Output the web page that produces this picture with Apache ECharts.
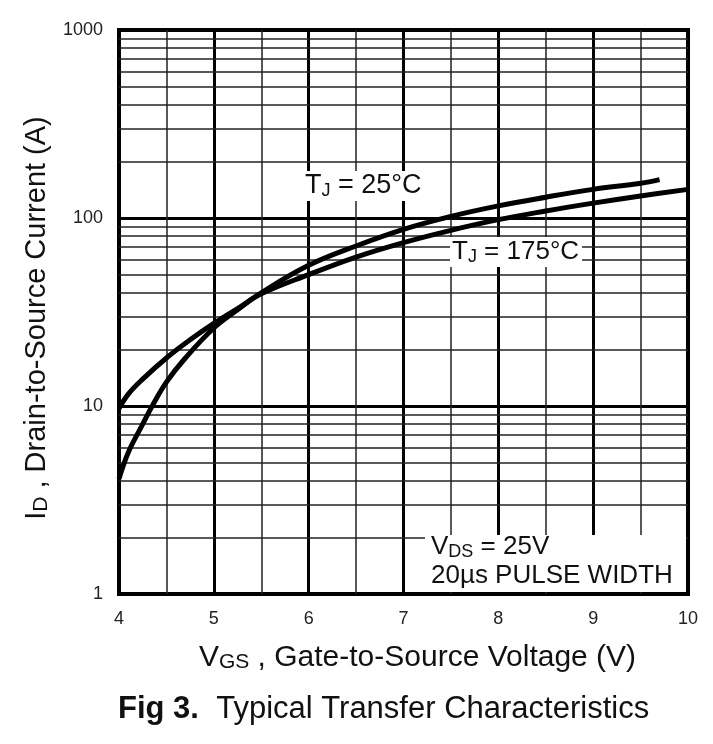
<!DOCTYPE html>
<html>
<head>
<meta charset="utf-8">
<script src="https://cdn.jsdelivr.net/npm/echarts@6/dist/echarts.min.js"></script>
<style>
html,body{margin:0;padding:0;background:#fff;}
#main{width:713px;height:744px;}
</style>
</head>
<body>
<div id="main"></div>
<script>
// Data
const vgs25 = [4.0, 4.1, 4.25, 4.35, 4.5, 4.7, 5.0, 5.25, 5.5, 6.0, 6.5, 7.0, 7.5, 8.0, 8.5, 9.0, 9.5, 9.7];
const id25  = [4.1, 5.7, 8.0, 10, 13.4, 18, 26, 32.5, 40, 56, 71, 87, 102, 116, 129, 142, 153, 160];
const vgs175 = [4.0, 4.1, 4.25, 4.5, 4.75, 5.0, 5.25, 5.5, 6.0, 6.5, 7.0, 7.5, 8.0, 8.5, 9.0, 9.5, 10.0];
const id175  = [9.7, 11.6, 13.9, 18, 22.5, 27.5, 33, 39.5, 50, 62, 74, 86, 98, 109, 120, 131, 142];
const yMinorLines = [2,3,4,5,6,7,8,9,20,30,40,50,60,70,80,90,200,300,400,500,600,700,800,900];
const xTickLabels = ['4','5','6','7','8','9','10'];
const yTickLabels = ['1','10','100','1000'];

const pair = (xs, ys) => xs.map((x, i) => [x, ys[i]]);
const FONT = '"Liberation Sans", Arial, sans-serif';

const chart = echarts.init(document.getElementById('main'));
chart.setOption({
  backgroundColor: '#fff',
  animation: false,
  grid: { left: 119, right: 25, top: 30, bottom: 150, show: true, borderColor: '#000', borderWidth: 4, backgroundColor: 'transparent' },
  xAxis: {
    type: 'value', min: 4, max: 10, interval: 1,
    axisLine: { show: false }, axisTick: { show: false },
    axisLabel: { color: '#222', fontSize: 18, fontFamily: FONT, margin: 16,
      formatter: v => xTickLabels[Math.round(v) - 4] },
    splitLine: { show: true, lineStyle: { color: '#000', width: 3 } },
    minorTick: { show: false, splitNumber: 2 },
    minorSplitLine: { show: true, lineStyle: { color: '#222', width: 1.5 } },
    name: '{m|V}{s|GS}{m| , Gate-to-Source Voltage (V)}',
    nameLocation: 'middle', nameGap: 48,
    nameTextStyle: { padding: [0, 0, 0, 28], rich: {
      m: { fontSize: 30, fontFamily: FONT, color: '#111' },
      s: { fontSize: 21, fontFamily: FONT, color: '#111', verticalAlign: 'bottom', padding: [10,0,0,0] }
    } }
  },
  yAxis: {
    type: 'log', logBase: 10, min: 1, max: 1000,
    axisLine: { show: false }, axisTick: { show: false },
    axisLabel: { color: '#222', fontSize: 18, fontFamily: FONT, margin: 16,
      formatter: v => yTickLabels[Math.round(Math.log10(v))] },
    splitLine: { show: true, lineStyle: { color: '#000', width: 3 } },
    name: '{m|I}{s|D}{m| , Drain-to-Source Current (A)}',
    nameLocation: 'middle', nameGap: 61, nameRotate: 90,
    nameTextStyle: { padding: [0, 12, 0, 0], rich: {
      m: { fontSize: 29, fontFamily: FONT, color: '#111' },
      s: { fontSize: 21, fontFamily: FONT, color: '#111', verticalAlign: 'bottom', padding: [10,0,0,0] }
    } }
  },
  series: [
    {
      type: 'line', data: [], silent: true, z: 1,
      markLine: {
        silent: true, symbol: 'none', animation: false,
        label: { show: false },
        lineStyle: { color: '#222', width: 1.6, type: 'solid' },
        data: yMinorLines.map(v => ({ yAxis: v }))
      }
    },
    {
      name: 'TJ = 25°C', type: 'line', smooth: 0.4, showSymbol: false, z: 5,
      lineStyle: { color: '#000', width: 5 },
      data: pair(vgs25, id25)
    },
    {
      name: 'TJ = 175°C', type: 'line', smooth: 0.4, showSymbol: false, z: 5,
      lineStyle: { color: '#000', width: 5 },
      data: pair(vgs175, id175)
    }
  ],
  graphic: [
    { type: 'text', left: 303, top: 171, z: 10,
      style: { text: '{m|T}{s|J}{m| = 25°C}', backgroundColor: '#fff', padding: [1,3,1,2],
        rich: { m: { fontSize: 27, fontFamily: FONT, fill: '#111' },
                s: { fontSize: 18, fontFamily: FONT, fill: '#111', verticalAlign: 'bottom', padding: [10,0,0,0] } } } },
    { type: 'text', left: 450, top: 237, z: 10,
      style: { text: '{m|T}{s|J}{m| = 175°C}', backgroundColor: '#fff', padding: [1,3,1,2],
        rich: { m: { fontSize: 26, fontFamily: FONT, fill: '#111' },
                s: { fontSize: 18, fontFamily: FONT, fill: '#111', verticalAlign: 'bottom', padding: [10,0,0,0] } } } },
    { type: 'rect', left: 425, top: 535, z: 9, shape: { width: 261, height: 57 }, style: { fill: '#fff' } },
    { type: 'text', left: 431, top: 533, z: 10,
      style: { text: '{m|V}{s|DS}{m| = 25V}\n{m|20µs PULSE WIDTH}',
        rich: { m: { fontSize: 26, fontFamily: FONT, fill: '#111', lineHeight: 29 },
                s: { fontSize: 18, fontFamily: FONT, fill: '#111', verticalAlign: 'bottom', padding: [10,0,0,0], lineHeight: 29 } } } },
    { type: 'text', left: 118, top: 694, z: 10,
      style: { text: '{b|Fig 3.}{n|  Typical Transfer Characteristics}',
        rich: { b: { fontSize: 31, fontWeight: 'bold', fontFamily: FONT, fill: '#111' },
                n: { fontSize: 31, fontFamily: FONT, fill: '#111' } } } }
  ]
});
</script>
</body>
</html>
